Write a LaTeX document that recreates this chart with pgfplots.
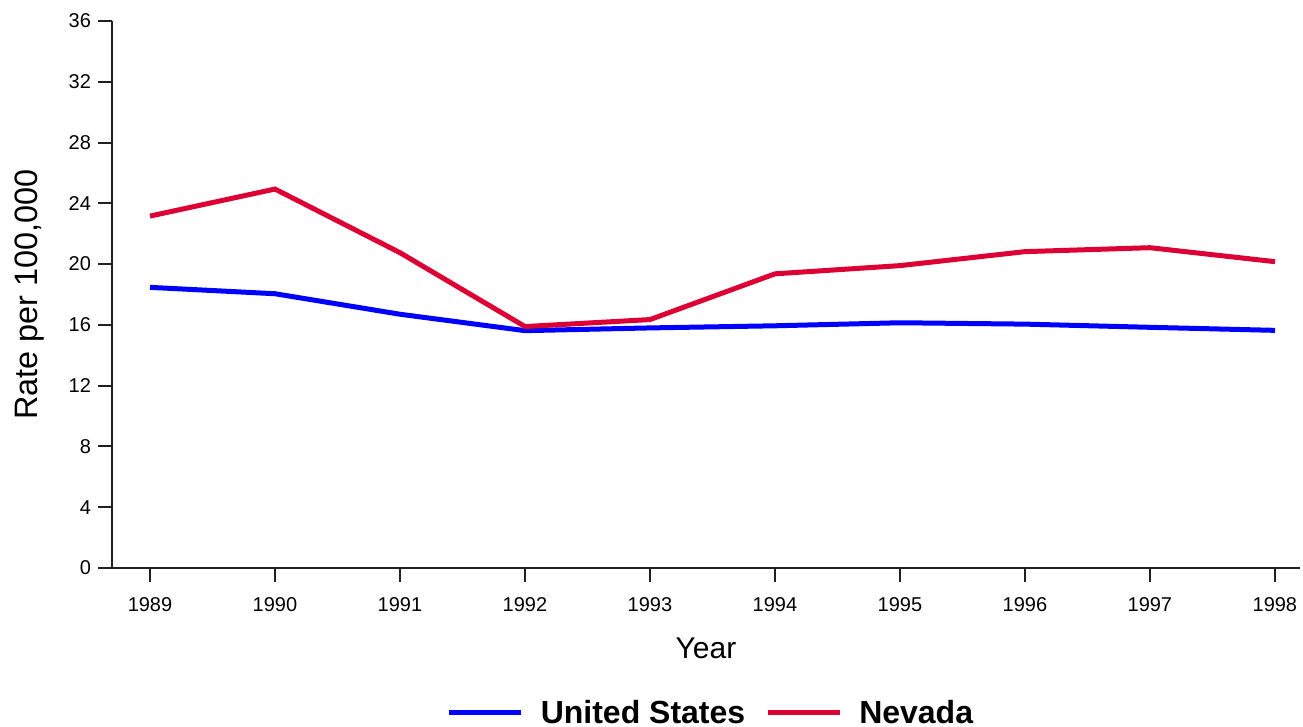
\documentclass[border=0pt]{standalone}
\usepackage{pgfplots}
\pgfplotsset{compat=1.18}
\usepackage{fontspec}
\setmainfont{Liberation Sans}
\definecolor{usblue}{RGB}{0,0,255}
\definecolor{nvred}{RGB}{220,0,52}
\definecolor{axisdark}{RGB}{35,31,32}
\begin{document}
\begin{tikzpicture}
\begin{axis}[
  scale only axis,
  width=594pt, height=273.5pt,
  xmin=1988.696, xmax=1998.2,
  ymin=0, ymax=36,
  axis x line*=bottom, axis y line*=left,
  axis line style={axisdark, line width=1pt},
  tick style={axisdark, line width=1pt},
  tick align=outside,
  major tick length=7pt,
  xtick={1989,...,1998},
  ytick={0,4,...,36},
  /pgf/number format/assume math mode=true,
  xticklabel style={/pgf/number format/1000 sep={}, font=\fontsize{10}{12}\selectfont, yshift=-4pt},
  yticklabel style={font=\fontsize{10}{12}\selectfont},
  xlabel={Year},
  ylabel={Rate per 100,000},
  every axis x label/.style={at={(axis description cs:0.5,0)}, anchor=center, yshift=-40pt, font=\fontsize{15}{18}\selectfont},
  every axis y label/.style={at={(axis description cs:0,0.5)}, anchor=center, rotate=90, yshift=41pt, font=\fontsize{16.2}{19}\selectfont},
  legend columns=2,
  legend style={at={(axis description cs:0.505,0)}, anchor=center, yshift=-72.5pt, draw=none, font=\bfseries\fontsize{16}{19}\selectfont, /tikz/every even column/.append style={column sep=8pt}},
  legend image code/.code={\draw[#1] (0cm,0cm) -- (36pt,0cm);},
]
\addplot[usblue, line width=2.5pt] coordinates {
(1989,18.47) (1990,18.05) (1991,16.70) (1992,15.62) (1993,15.80) (1994,15.94) (1995,16.14) (1996,16.05) (1997,15.84) (1998,15.64)};
\addlegendentry{\hspace*{6.5pt}United States}
\addplot[nvred, line width=2.5pt] coordinates {
(1989,23.16) (1990,24.94) (1991,20.75) (1992,15.89) (1993,16.35) (1994,19.36) (1995,19.90) (1996,20.82) (1997,21.08) (1998,20.16)};
\addlegendentry{\hspace*{6.5pt}Nevada}
\end{axis}
\pgfresetboundingbox
\useasboundingbox (-56pt,-79.5pt) rectangle (595.5pt,284pt);
\end{tikzpicture}
\end{document}
